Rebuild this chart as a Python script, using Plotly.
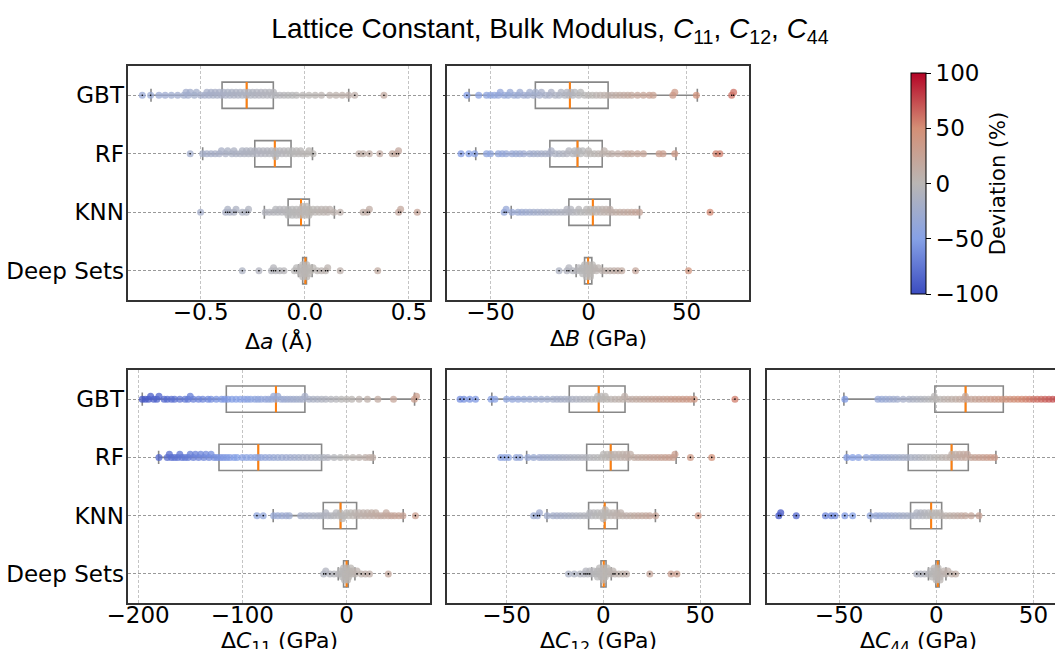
import numpy as np
import plotly.graph_objects as go

W, H = 1055, 649
models = ["GBT", "RF", "KNN", "Deep Sets"]
model_pos = [3, 2, 1, 0]

# ---------------- data ----------------
# Lattice constant error (Å)
a_gbt = [-0.78, -0.74, -0.70, -0.67, -0.64, -0.61, -0.58, -0.57, -0.56, -0.55, -0.53, -0.52, -0.50, -0.48,
         -0.47, -0.46, -0.45, -0.44, -0.43, -0.42, -0.41, -0.40, -0.39, -0.38, -0.37, -0.36, -0.35, -0.34,
         -0.33, -0.32, -0.31, -0.30, -0.29, -0.28, -0.27, -0.26, -0.25, -0.24, -0.23, -0.22, -0.21, -0.20,
         -0.19, -0.18, -0.17, -0.16, -0.15, -0.14, -0.12, -0.10, -0.08, -0.06, -0.04, -0.01, 0.02, 0.05,
         0.08, 0.12, 0.15, 0.18, 0.21, 0.24, 0.38]
a_rf = [-0.55, -0.49, -0.47, -0.45, -0.43, -0.41, -0.40, -0.38, -0.37, -0.35, -0.34, -0.33, -0.31, -0.30,
        -0.29, -0.28, -0.27, -0.26, -0.25, -0.24, -0.23, -0.22, -0.21, -0.20, -0.19, -0.18, -0.17, -0.16,
        -0.15, -0.14, -0.14, -0.13, -0.12, -0.11, -0.10, -0.09, -0.08, -0.07, -0.06, -0.05, -0.04, -0.03,
        -0.02, -0.01, 0.01, 0.02, 0.04, 0.26, 0.28, 0.31, 0.36, 0.42, 0.44, 0.45]
a_knn = [-0.50, -0.38, -0.37, -0.36, -0.34, -0.33, -0.30, -0.28, -0.27, -0.19, -0.17, -0.15, -0.14, -0.13,
         -0.12, -0.11, -0.10, -0.09, -0.08, -0.08, -0.07, -0.06, -0.06, -0.05, -0.04, -0.04, -0.03, -0.02,
         -0.02, -0.01, -0.01, 0.00, 0.00, 0.01, 0.01, 0.02, 0.02, 0.03, 0.04, 0.05, 0.06, 0.07, 0.08, 0.09,
         0.10, 0.11, 0.12, 0.14, 0.17, 0.28, 0.30, 0.31, 0.45, 0.46, 0.54]
a_ds = [-0.30, -0.22, -0.16, -0.15, -0.14, -0.12, -0.10, -0.05, -0.04, -0.03, -0.02, -0.02, -0.01, -0.01,
        -0.01, 0.00, 0.00, 0.00, 0.00, 0.00, 0.01, 0.01, 0.01, 0.02, 0.02, 0.03, 0.04, 0.06, 0.08, 0.10,
        0.11, 0.17, 0.35]
a_q1 = [-0.397, -0.240, -0.080, -0.010]
a_med = [-0.279, -0.144, -0.018, 0.003]
a_q3 = [-0.151, -0.066, 0.022, 0.008]
a_lo = [-0.738, -0.490, -0.194, -0.030]
a_hi = [0.211, 0.037, 0.142, 0.035]

# Bulk modulus error (GPa)
b_gbt = [-62, -56, -52, -50, -48, -46, -45, -43, -41, -40, -38, -36, -35, -33, -31, -30, -28, -27, -25,
         -24, -22, -20, -19, -17, -15, -14, -12, -11, -10, -9, -8, -7, -5, -4, -2, 0, 2, 4, 6, 8, 10, 12,
         14, 16, 18, 20, 22, 25, 28, 31, 33, 43, 44, 55, 73, 74]
b_rf = [-65, -61, -58, -52, -50, -46, -44, -42, -39, -37, -35, -33, -30, -28, -26, -24, -22, -20, -19,
        -17, -15, -13, -11, -10, -8, -7, -6, -5, -4, -3, -1, 0, 1, 3, 5, 7, 8, 10, 12, 15, 18, 20, 22, 25,
        28, 36, 38, 44, 65, 67]
b_knn = [-43, -42, -39, -36, -34, -32, -30, -28, -26, -24, -22, -20, -18, -16, -14, -12, -11, -10, -9, -8,
         -6, -5, -4, -2, -1, 0, 1, 2, 3, 4, 5, 6, 7, 8, 9, 10, 11, 12, 14, 16, 18, 20, 22, 24, 26, 62]
b_ds = [-15, -11, -10, -8, -6, -5, -4, -3, -3, -2, -2, -1, -1, -1, 0, 0, 0, 0, 1, 1, 1, 2, 2, 3, 4, 5, 7,
        9, 11, 13, 15, 17, 24, 51]
b_q1 = [-27.1, -19.7, -10.0, -2.0]
b_med = [-9.5, -5.6, 2.2, -0.2]
b_q3 = [10.0, 7.0, 11.0, 1.7]
b_lo = [-60.9, -57.5, -39.4, -6.3]
b_hi = [55.5, 44.6, 26.0, 7.1]

# C11 error (GPa)
c11_gbt = [-196, -193, -190, -188, -185, -182, -180, -175, -172, -168, -165, -160, -155, -152, -150, -147,
           -142, -138, -133, -130, -125, -120, -117, -114, -110, -106, -102, -98, -95, -92, -88, -85, -82,
           -78, -75, -72, -70, -68, -66, -63, -60, -57, -54, -51, -48, -45, -42, -40, -36, -32, -28, -24,
           -20, -15, -10, -5, 0, 5, 12, 20, 30, 45, 65, 67]
c11_rf = [-180, -172, -170, -168, -165, -162, -160, -158, -155, -152, -150, -147, -145, -142, -140, -137,
          -135, -132, -130, -127, -124, -121, -118, -115, -112, -108, -105, -100, -96, -92, -88, -85, -82,
          -78, -74, -70, -66, -62, -58, -54, -50, -46, -42, -38, -34, -30, -26, -22, -18, -12, -6, 0, 6,
          12, 18, 22, 25]
c11_knn = [-86, -80, -70, -66, -62, -58, -55, -44, -40, -36, -32, -28, -25, -22, -20, -18, -15, -12, -10,
           -8, -6, -5, -4, -2, 0, 2, 4, 6, 8, 10, 12, 14, 16, 18, 20, 22, 24, 26, 28, 30, 33, 36, 38, 40,
           43, 46, 50, 54, 66]
c11_ds = [-22, -20, -16, -12, -8, -6, -5, -4, -3, -3, -2, -2, -1, -1, 0, 0, 0, 0, 1, 1, 1, 2, 2, 3, 4, 5,
          6, 8, 10, 14, 18, 22, 40]
c11_q1 = [-115.4, -122.4, -22.4, -2.9]
c11_med = [-67.8, -84.7, -5.8, 0.0]
c11_q3 = [-40.0, -24.0, 9.6, 1.6]
c11_lo = [-196.0, -180.3, -70.4, -8.0]
c11_hi = [65.2, 25.5, 54.3, 8.0]

# C12 error (GPa)
c12_gbt = [-74, -72, -69, -66, -58, -56, -50, -47, -44, -41, -38, -35, -32, -29, -26, -24, -22, -20, -18,
           -16, -14, -12, -10, -8, -6, -4, -3, -2, -1, 0, 1, 2, 4, 6, 8, 10, 11, 13, 15, 17, 19, 21, 23,
           25, 27, 29, 31, 33, 35, 37, 39, 41, 43, 45, 47, 68]
c12_rf = [-53, -51, -49, -45, -43, -39, -36, -33, -31, -29, -27, -25, -23, -21, -19, -17, -15, -13, -11,
          -9, -7, -5, -3, -1, 0, 1, 2, 3, 4, 5, 6, 7, 8, 9, 10, 11, 12, 13, 14, 16, 18, 20, 22, 24, 26,
          28, 30, 32, 34, 36, 37, 45, 56]
c12_knn = [-36, -34, -33, -29, -26, -24, -22, -20, -18, -16, -14, -12, -10, -8, -7, -6, -5, -4, -3, -2,
           -1, 0, 0, 1, 1, 2, 3, 4, 5, 6, 7, 8, 9, 10, 12, 14, 16, 18, 20, 22, 24, 27, 49]
c12_ds = [-18, -15, -12, -10, -9, -8, -7, -6, -5, -4, -3, -3, -2, -2, -1, -1, 0, 0, 0, 1, 1, 2, 2, 3, 4,
          5, 6, 8, 10, 12, 24, 35, 38]
c12_q1 = [-17.6, -8.6, -7.6, -1.2]
c12_med = [-2.4, 3.8, 0.7, 0.2]
c12_q3 = [11.2, 12.9, 7.2, 1.4]
c12_lo = [-57.6, -39.6, -29.1, -6.0]
c12_hi = [46.8, 37.6, 26.9, 4.1]

# C44 error (GPa)
c44_gbt = [-47, -30, -28, -26, -24, -22, -20, -17, -14, -12, -10, -8, -6, -4, -2, -1, 0, 2, 4, 6, 8, 10,
           12, 14, 15, 16, 18, 20, 22, 24, 26, 28, 30, 32, 34, 36, 38, 40, 42, 44, 46, 48, 50, 52, 54, 56,
           58, 60, 62, 65, 70]
c44_rf = [-46, -43, -40, -36, -33, -31, -29, -27, -25, -23, -21, -19, -17, -15, -13, -11, -9, -7, -5, -3,
          -1, 1, 3, 5, 7, 8, 9, 10, 11, 12, 13, 14, 15, 16, 18, 20, 22, 24, 26, 28, 30]
c44_knn = [-81, -80, -72, -57, -54, -52, -47, -43, -34, -31, -29, -27, -25, -23, -21, -19, -17, -15, -13,
           -11, -10, -9, -8, -7, -6, -5, -4, -3, -2, -1, 0, 1, 2, 3, 5, 7, 9, 11, 13, 15, 18, 22]
c44_ds = [-10, -8, -6, -4, -3, -2, -2, -1, -1, 0, 0, 0, 1, 1, 1, 2, 2, 3, 4, 5, 6, 8, 10]
c44_q1 = [-0.7, -14.4, -13.2, -0.2]
c44_med = [15.1, 7.9, -2.6, 0.8]
c44_q3 = [34.5, 16.5, 2.8, 1.5]
c44_lo = [-47.5, -46.1, -33.7, -4.0]
c44_hi = [75.0, 30.7, 22.5, 5.0]

# typical magnitude of each property, used to express errors as deviation (%)
ref_a, ref_b, ref_c11, ref_c12, ref_c44 = 2.4, 120.0, 210.0, 120.0, 85.0

# ---------------- layout helpers ----------------
def px2x(p):
    return p / W

def px2y(p):
    return 1 - p / H

panels = [
    dict(vals=[a_gbt, a_rf, a_knn, a_ds], stats=(a_q1, a_med, a_q3, a_lo, a_hi), ref=ref_a,
         xr=[-0.847, 0.601], xpx=(128.3, 430.0), ypx=(66, 300), ylab=True, title_y=341,
         tickvals=[-0.5, 0.0, 0.5], ticktext=["\u22120.5", "0.0", "0.5"],
         title="\u0394<i>a</i> (\u00c5)"),
    dict(vals=[b_gbt, b_rf, b_knn, b_ds], stats=(b_q1, b_med, b_q3, b_lo, b_hi), ref=ref_b,
         xr=[-72.0, 82.0], xpx=(447.3, 749.3), ypx=(66, 300), ylab=False, title_y=338,
         tickvals=[-50, 0, 50], ticktext=["\u221250", "0", "50"],
         title="\u0394<i>B</i> (GPa)"),
    dict(vals=[c11_gbt, c11_rf, c11_knn, c11_ds], stats=(c11_q1, c11_med, c11_q3, c11_lo, c11_hi), ref=ref_c11,
         xr=[-209.4, 80.0], xpx=(128.3, 430.0), ypx=(370, 603), ylab=True, title_y=642,
         tickvals=[-200, -100, 0], ticktext=["\u2212200", "\u2212100", "0"],
         title="\u0394<i>C</i><sub>11</sub> (GPa)"),
    dict(vals=[c12_gbt, c12_rf, c12_knn, c12_ds], stats=(c12_q1, c12_med, c12_q3, c12_lo, c12_hi), ref=ref_c12,
         xr=[-80.6, 75.4], xpx=(447.3, 749.3), ypx=(370, 603), ylab=False, title_y=642,
         tickvals=[-50, 0, 50], ticktext=["\u221250", "0", "50"],
         title="\u0394<i>C</i><sub>12</sub> (GPa)"),
    dict(vals=[c44_gbt, c44_rf, c44_knn, c44_ds], stats=(c44_q1, c44_med, c44_q3, c44_lo, c44_hi), ref=ref_c44,
         xr=[-86.9, 61.1], xpx=(767.3, 1055.0), ypx=(370, 603), ylab=False, clipped=True, title_y=642,
         title_x=918, tickvals=[-50, 0, 50], ticktext=["\u221250", "0", "50"],
         title="\u0394<i>C</i><sub>44</sub> (GPa)"),
]

colorscale = [[0.0, "#3b4cc0"], [0.25, "#86a1e6"], [0.5, "#b9b6b4"], [0.75, "#d48f76"], [1.0, "#b40426"]]


def swarm_offsets(vals, ppu_x, ppu_y, diam=3.0, step=1.0, max_px=7.0):
    vals = np.asarray(vals, dtype=float)
    order = np.argsort(vals, kind="stable")
    placed = []
    offs = np.zeros(len(vals))
    n = int(max_px / step)
    cands = [0.0]
    for j in range(1, n + 1):
        cands += [j * step, -j * step]
    for i in order:
        xp = vals[i] * ppu_x
        near = [(x, y) for x, y in placed if abs(x - xp) < diam]
        best = 0.0
        for c in cands:
            if all((xp - x) ** 2 + (c - y) ** 2 >= diam ** 2 for x, y in near):
                best = c
                break
        placed.append((xp, best))
        offs[i] = best / ppu_y
    return offs


FONT = "DejaVu Sans"
fig = go.Figure()
layout = {}
annotations = []

for k, p in enumerate(panels, start=1):
    xa = "x" if k == 1 else f"x{k}"
    ya = "y" if k == 1 else f"y{k}"
    x0, x1 = p["xpx"]
    y0, y1 = p["ypx"]
    ppu_x = (x1 - x0) / (p["xr"][1] - p["xr"][0])
    ppu_y = (y1 - y0) / 4.0
    q1, med, q3, lo, hi = p["stats"]

    for m, vals in enumerate(p["vals"]):
        vals_arr = np.asarray(vals, dtype=float)
        offs = swarm_offsets(vals_arr, ppu_x, ppu_y)
        ypos = model_pos[m] + offs
        fig.add_trace(go.Scatter(
            x=vals_arr, y=ypos, xaxis=xa, yaxis=ya, mode="markers",
            marker=dict(size=7, color=vals_arr / p["ref"] * 100.0, coloraxis="coloraxis",
                        opacity=0.75, line=dict(width=0)),
            showlegend=False, hoverinfo="x"))
        out = (vals_arr < lo[m]) | (vals_arr > hi[m])
        if out.any():
            fig.add_trace(go.Scatter(
                x=vals_arr[out], y=np.full(out.sum(), model_pos[m]), xaxis=xa, yaxis=ya, mode="markers",
                marker=dict(size=1.6, color="black"), showlegend=False, hoverinfo="skip"))

    for m in range(4):
        fig.add_trace(go.Box(
            y=[model_pos[m]], q1=[q1[m]], median=[med[m]], q3=[q3[m]],
            lowerfence=[lo[m]], upperfence=[hi[m]], orientation="h",
            xaxis=xa, yaxis=ya, width=0.45, whiskerwidth=0.5, boxpoints=False,
            fillcolor="rgba(0,0,0,0)", line=dict(color="#888888", width=1.6),
            showlegend=False, hoverinfo="skip"))
        fig.add_trace(go.Box(
            y=[model_pos[m]], q1=[med[m]], median=[med[m]], q3=[med[m]],
            lowerfence=[med[m]], upperfence=[med[m]], orientation="h",
            xaxis=xa, yaxis=ya, width=0.45, whiskerwidth=0, boxpoints=False,
            fillcolor="rgba(0,0,0,0)", line=dict(color="#ff7f0e", width=2),
            showlegend=False, hoverinfo="skip"))

    xkey = "xaxis" if k == 1 else f"xaxis{k}"
    ykey = "yaxis" if k == 1 else f"yaxis{k}"
    layout[xkey] = dict(
        domain=[px2x(x0), px2x(x1)], anchor=ya, range=p["xr"], automargin=False,
        tickvals=p["tickvals"], ticktext=p["ticktext"], ticks="", ticklen=0, ticklabelstandoff=-9,
        tickfont=dict(family=FONT, size=23, color="black"),
        showgrid=True, gridcolor="#c4c4c4", griddash="3px,2px", gridwidth=1, zeroline=False,
        showline=True, linecolor="#333333", linewidth=1.5, mirror=True,
    )
    ydict = dict(
        domain=[px2y(y1), px2y(y0)], anchor=xa, range=[-0.5, 3.5], automargin=False,
        tickvals=model_pos, showticklabels=p["ylab"],
        tickfont=dict(family=FONT, size=23, color="black"),
        showgrid=True, gridcolor="#999999", griddash="3px,2px", gridwidth=1, zeroline=False,
        showline=True, linecolor="#333333", linewidth=1.5, mirror=not p.get("clipped", False),
    )
    if p["ylab"]:
        ydict.update(ticktext=models, ticks="", ticklen=0, ticklabelstandoff=-2)
    else:
        ydict.update(ticks="outside", ticklen=3, tickcolor="#333333")
    layout[ykey] = ydict

    annotations.append(dict(
        text=p["title"], xref="paper", yref="paper",
        x=px2x(p.get("title_x", (x0 + x1) / 2)), y=px2y(p["title_y"]),
        xanchor="center", yanchor="middle", showarrow=False,
        font=dict(family=FONT, size=22, color="black")))

fig.update_layout(
    width=W, height=H, margin=dict(l=0, r=0, t=0, b=0, autoexpand=False),
    paper_bgcolor="white", plot_bgcolor="white", showlegend=False,
    annotations=annotations,
    title=dict(text="Lattice Constant, Bulk Modulus, <i>C</i><sub>11</sub>, <i>C</i><sub>12</sub>, <i>C</i><sub>44</sub>",
               x=550 / W, xanchor="center", y=px2y(28), yanchor="middle",
               font=dict(family="Liberation Sans", size=28, color="black")),
    coloraxis=dict(
        colorscale=colorscale, cmin=-100, cmax=100,
        colorbar=dict(
            x=px2x(911), xanchor="left", y=px2y(183.5), yanchor="middle",
            len=221, lenmode="pixels", thickness=15, thicknessmode="pixels",
            outlinecolor="black", outlinewidth=1, xpad=0, ypad=0,
            tickvals=[-100, -50, 0, 50, 100], ticktext=["\u2212100", "\u221250", "0", "50", "100"],
            ticks="outside", ticklen=5, tickcolor="black",
            tickfont=dict(family=FONT, size=23, color="black"),
            title=dict(text="Deviation (%)", side="right", font=dict(family=FONT, size=21, color="black")),
        ),
    ),
    **layout,
)

fig.write_html("out.html")
